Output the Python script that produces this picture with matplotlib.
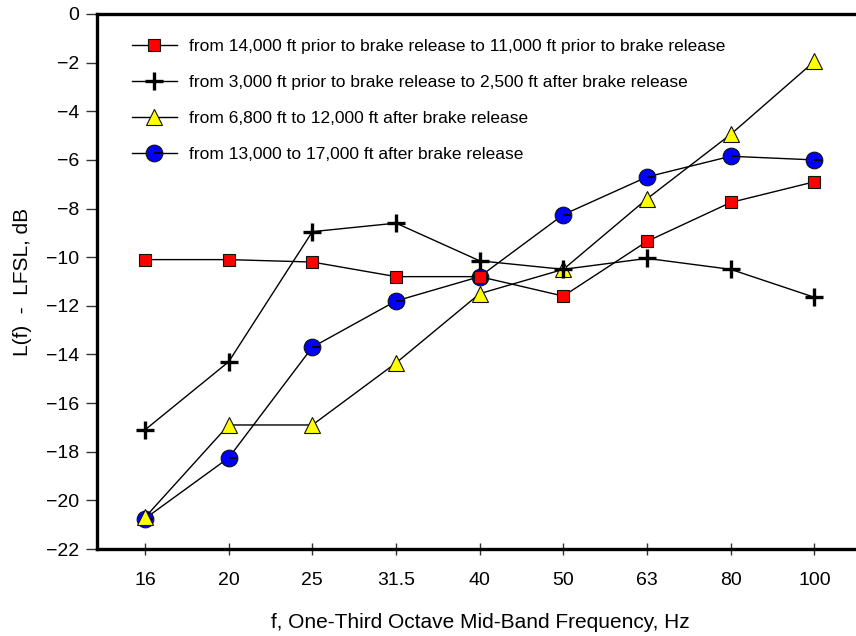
import matplotlib
matplotlib.use("Agg")
import matplotlib.pyplot as plt
from matplotlib.path import Path

plt.rcParams["font.family"] = ["Liberation Sans", "DejaVu Sans"]

# One-third octave mid-band frequencies (Hz)
freq_labels = ["16", "20", "25", "31.5", "40", "50", "63", "80", "100"]

# L(f) - LFSL in dB for each flight segment
seg_14000_11000 = [-10.1, -10.1, -10.2, -10.8, -10.8, -11.6, -9.35, -7.75, -6.9]
seg_3000_2500 = [-17.1, -14.3, -8.95, -8.6, -10.15, -10.5, -10.05, -10.5, -11.65]
seg_6800_12000 = [-20.7, -16.9, -16.9, -14.35, -11.5, -10.5, -7.6, -4.95, -1.95]
seg_13000_17000 = [-20.75, -18.25, -13.7, -11.8, -10.8, -8.25, -6.7, -5.85, -6.0]

labels = [
    "from 14,000 ft prior to brake release to 11,000 ft prior to brake release",
    "from 3,000 ft prior to brake release to 2,500 ft after brake release",
    "from 6,800 ft to 12,000 ft after brake release",
    "from 13,000 to 17,000 ft after brake release",
]

y_ticks = list(range(0, -23, -2))
y_tick_labels = [str(v).replace("-", "\u2212") for v in y_ticks]

fig = plt.figure(figsize=(8.56, 6.36), dpi=100)
ax = fig.add_axes([97 / 856, (636 - 549) / 636, 1.0 - 97 / 856 + 0.01, (549 - 14) / 636])

x = list(range(len(freq_labels)))

# short radius stroke drawn inside each circle marker
radius_tick = Path([(0, 0), (1, 0)], [Path.MOVETO, Path.LINETO])

h_circ, = ax.plot(x, seg_13000_17000, color="black", lw=1.0, marker="o", ms=12,
                  mfc="#0000ff", mec="#111111", mew=0.8, zorder=3)
h_circ_tick, = ax.plot(x, seg_13000_17000, ls="none", marker=radius_tick, ms=12,
                       mec="black", mew=1.3, zorder=3.1)
h_tri, = ax.plot(x, seg_6800_12000, color="black", lw=1.0, marker="^", ms=12,
                 mfc="#ffff00", mec="#111111", mew=0.8, zorder=4)
h_plus, = ax.plot(x, seg_3000_2500, color="black", lw=1.0, marker="+", ms=13,
                  mec="black", mew=2.4, zorder=5)
h_sq, = ax.plot(x, seg_14000_11000, color="black", lw=1.0, marker="s", ms=9,
                mfc="#ff0000", mec="#111111", mew=0.8, zorder=6)

ax.set_xlim(-0.574, 8.6)
ax.set_ylim(-22, 0)

ax.set_xticks(x)
ax.set_xticklabels(freq_labels)
ax.set_yticks(y_ticks)
ax.set_yticklabels(y_tick_labels)

for side in ("left", "bottom", "top"):
    ax.spines[side].set_linewidth(2.4)
    ax.spines[side].set_color("black")
ax.spines["right"].set_visible(False)

ax.tick_params(axis="x", direction="inout", length=9, width=1.0, color="#333333",
               labelsize=14, pad=12)
ax.tick_params(axis="y", direction="out", length=8, width=1.0, color="#333333",
               labelsize=14, pad=5)

ax.set_xlabel("f, One-Third Octave Mid-Band Frequency, Hz", fontsize=15, labelpad=17)
ax.set_ylabel("L(f)  -  LFSL, dB", fontsize=15, labelpad=10)

leg = ax.legend([h_sq, h_plus, h_tri, (h_circ, h_circ_tick)], labels,
                loc="upper left", bbox_to_anchor=(0.037, 0.966), frameon=False,
                fontsize=12.5, handlelength=2.55, handletextpad=0.7,
                labelspacing=1.2, borderaxespad=0)

fig.savefig("out.png", dpi=100)
